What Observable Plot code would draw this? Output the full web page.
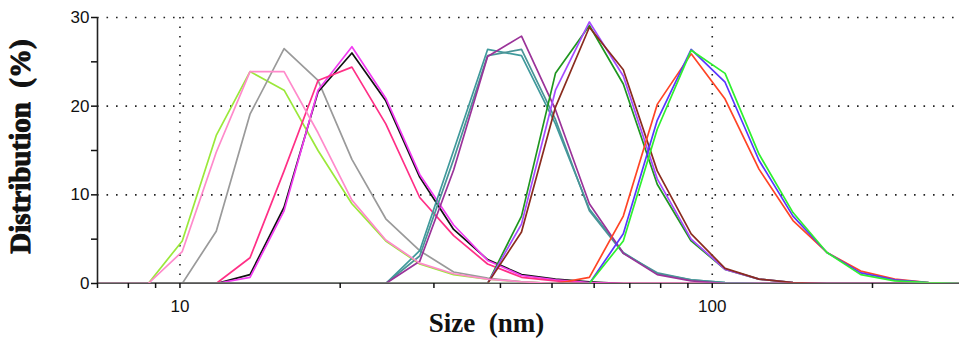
<!DOCTYPE html>
<html><head><meta charset="utf-8">
<script src="https://cdn.jsdelivr.net/npm/d3@7"></script>
<script src="https://cdn.jsdelivr.net/npm/@observablehq/plot@0.6"></script>
<style>body{margin:0;background:#fff}</style>
</head><body><div id="chart"></div>
<script>
// Size bins (nm)
const sizes = [6.50, 7.53, 8.72, 10.10, 11.70, 13.54, 15.69, 18.17, 21.04, 24.36, 28.21, 32.67, 37.84, 43.82, 50.75, 58.77, 68.06, 78.82, 91.28, 105.7, 122.4, 141.8, 164.2, 190.1, 220.2, 255.0, 295.3];

// Distribution (%) per sample
const yellowGreen = [0,0,0,4.8,16.7,23.9,21.8,15.0,9.0,4.8,2.2,1.0,0.5,0.2,0,0,0,0,0,0,0,0,0,0,0,0,0];
const gray        = [0,0,0,0,5.9,19.1,26.5,22.9,14.0,7.3,3.7,1.3,0.6,0.2,0,0,0,0,0,0,0,0,0,0,0,0,0];
const black       = [0,0,0,0,0,1.0,8.6,21.6,26.0,20.6,12.0,6.1,2.7,1.0,0.5,0.2,0,0,0,0,0,0,0,0,0,0,0];
const magenta     = [0,0,0,0,0,0.7,8.2,21.8,26.7,20.9,12.3,6.6,2.6,0.9,0.4,0.1,0,0,0,0,0,0,0,0,0,0,0];
const crimson     = [0,0,0,0,0,2.9,12.7,22.9,24.4,18.0,9.7,5.4,2.2,0.7,0.3,0,0,0,0,0,0,0,0,0,0,0,0];
const teal1       = [0,0,0,0,0,0,0,0,0,0,3.7,15.0,26.4,25.7,18.0,8.4,3.5,1.1,0.4,0.1,0,0,0,0,0,0,0];
const teal2       = [0,0,0,0,0,0,0,0,0,0,3.1,14.0,25.7,26.4,18.5,8.2,3.4,1.2,0.4,0.1,0,0,0,0,0,0,0];
const purple      = [0,0,0,0,0,0,0,0,0,0,2.5,12.8,25.6,27.9,19.6,9.0,3.4,1.0,0.3,0,0,0,0,0,0,0,0];
const darkGreen   = [0,0,0,0,0,0,0,0,0,0,0,0,0,7.6,23.7,29.1,22.5,11.2,4.8,1.6,0.5,0.1,0,0,0,0,0];
const violet      = [0,0,0,0,0,0,0,0,0,0,0,0,0,6.7,21.8,29.5,23.4,11.8,5.0,1.6,0.5,0.1,0,0,0,0,0];
const brown       = [0,0,0,0,0,0,0,0,0,0,0,0,0,5.8,19.9,28.9,24.1,12.7,5.6,1.7,0.5,0.1,0,0,0,0,0];
const red         = [0,0,0,0,0,0,0,0,0,0,0,0,0,0,0,0.7,7.6,20.2,25.9,20.8,12.9,7.1,3.5,1.4,0.5,0.1,0];
const blue        = [0,0,0,0,0,0,0,0,0,0,0,0,0,0,0,0,5.6,18.4,26.4,22.7,13.9,7.6,3.5,1.2,0.4,0.1,0];
const green       = [0,0,0,0,0,0,0,0,0,0,0,0,0,0,0,0,4.8,17.4,26.3,23.7,14.6,8.0,3.5,1.0,0.3,0.1,0];
const pink        = [0,0,0,3.6,14.8,23.9,23.9,17.0,9.4,4.9,2.3,1.1,0.5,0.2,0,0,0,0,0,0,0,0,0,0,0,0,0];

const seriesNames  = ["yellowGreen","gray","black","magenta","crimson","teal1","teal2","purple","darkGreen","violet","brown","red","blue","green","pink"];
const seriesValues = [yellowGreen, gray, black, magenta, crimson, teal1, teal2, purple, darkGreen, violet, brown, red, blue, green, pink];
const seriesColors = ["#9be83a","#9a9a9a","#111111","#f23cf2","#ff2f86","#3f9a9c","#4a9497","#9b3399","#1f961f","#a64bff","#8a2c1e","#ff4426","#5a35ff","#2ff02f","#ff8acb"];

const xMajorTicks = [10, 100];
const xMinorTicks = [7, 8, 9, 20, 30, 40, 50, 60, 70, 80, 90, 200];
const yMajorTicks = [0, 10, 20, 30];
const yMinorTicks = [5, 15, 25];
const gridYTicks = [10, 20, 30];

const data = [];
seriesValues.forEach((vals, i) => vals.forEach((v, j) => data.push({series: seriesNames[i], size: sizes[j], value: v})));

const dots = {stroke: "#222", strokeOpacity: 1, strokeWidth: 1.6, strokeDasharray: "1.6,7.9"};

const chart = Plot.plot({
  width: 959, height: 345,
  marginLeft: 97, marginRight: 0, marginTop: 17, marginBottom: 62,
  style: {fontFamily: "Liberation Sans, Arial, sans-serif", fontSize: "17px", background: "#fff"},
  x: {type: "log", domain: [7, 291.4]},
  y: {domain: [0, 30]},
  color: {domain: seriesNames, range: seriesColors},
  marks: [
    Plot.gridY(gridYTicks, dots),
    Plot.gridX(xMajorTicks, dots),
    Plot.lineY(data, {x: "size", y: "value", z: "series", stroke: "series", strokeWidth: 1.7, clip: true}),
    Plot.ruleY([0], {stroke: "#555", strokeWidth: 1.2}),
    Plot.ruleX([7], {y1: 0, y2: 30, stroke: "#222", strokeWidth: 1.6}),
    Plot.axisY(yMajorTicks, {tickSize: 6, tickPadding: 2, fontSize: 17, color: "#111", strokeWidth: 1.5, label: null, tickFormat: d => String(d)}),
    Plot.axisY(yMinorTicks, {tickSize: 6, color: "#111", strokeWidth: 1.5, label: null, tickFormat: () => ""}),
    Plot.axisX(xMajorTicks, {tickSize: 5, tickPadding: 11, fontSize: 17, color: "#111", strokeWidth: 1.5, label: null, tickFormat: d => String(d)}),
    Plot.axisX(xMinorTicks, {tickSize: 5, color: "#111", strokeWidth: 1.5, label: null, tickFormat: () => ""}),
    Plot.text(["Size\u00a0\u00a0(nm)"], {frameAnchor: "bottom", textAnchor: "middle", dx: -42, dy: 48, fontSize: 27, fontWeight: "bold", fontFamily: "Liberation Serif, Times New Roman, serif", fill: "#111"}),
    Plot.text(["Distribution\u00a0\u00a0(%)"], {frameAnchor: "left", textAnchor: "middle", dx: -77, dy: -4, rotate: -90, fontSize: 29, fontWeight: "bold", fontFamily: "Liberation Serif, Times New Roman, serif", fill: "#111", stroke: "#111", strokeWidth: 1})
  ]
});
document.getElementById("chart").appendChild(chart);
</script>
</body></html>
